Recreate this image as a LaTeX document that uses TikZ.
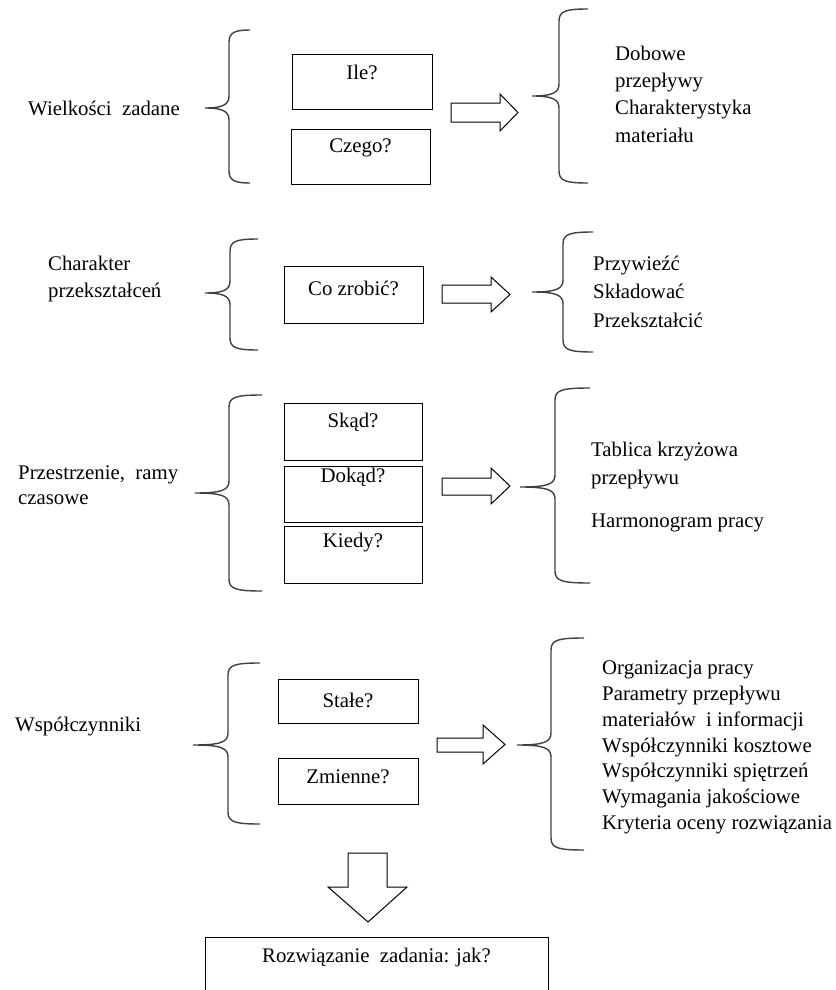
\documentclass[tikz,border=0pt]{standalone}
\usepackage{fontspec}
\setmainfont{Liberation Serif}
\newcommand{\mybrace}[6]{%
  \draw[brc] (#3,#4) .. controls (#2+7,#4) and (#2,#4+2) .. (#2,#4+12)
    -- (#2,#5-12) .. controls (#2,#5-3) and (#2-7,#5) .. (#1,#5)
    .. controls (#2-7,#5) and (#2,#5+3) .. (#2,#5+12)
    -- (#2,#6-12) .. controls (#2,#6-2) and (#2+7,#6) .. (#3,#6);}
\begin{document}
\begin{tikzpicture}[x=1pt,y=-1pt,
  qbox/.style={draw=black, line width=1.3pt, inner sep=0pt, anchor=north west},
  lbl/.style={inner sep=0pt, font=\fontsize{20.8}{26}\selectfont},
  brc/.style={draw=black!75, line width=1.4pt},
  barrow/.style={draw=black, line width=1pt, fill=white, line join=miter}]
\useasboundingbox (0,0) rectangle (835,990);

% ---------- section 1 ----------
\node[lbl, anchor=west] (l1) at (28,108) {Wielkości\ \ zadane};
\mybrace{205}{229}{250}{30}{108}{183}
\node[qbox, minimum width=140pt, minimum height=55pt] (bIle) at (292,54) {};
\node[lbl] (tIle) at (362,72) {Ile?};
\node[qbox, minimum width=139pt, minimum height=55pt] (bCzego) at (291,129) {};
\node[lbl] (tCzego) at (360.5,148) {Czego?};
\draw[barrow] (451,103) -- (500,103) -- (500,94) -- (518,112.5) -- (500,131) -- (500,122) -- (451,122) -- cycle;
\mybrace{532}{559}{588}{9}{96}{183}
\node[lbl, anchor=west, align=left, font=\fontsize{20.8}{27.3}\selectfont] (r1) at (615,94)
  {Dobowe\\przepływy\\Charakterystyka\\materiału};

% ---------- section 2 ----------
\node[lbl, anchor=west, align=left, font=\fontsize{20.8}{27}\selectfont] (l2) at (48,278.5)
  {Charakter\\przekształceń};
\mybrace{205}{230}{258}{239}{293}{350}
\node[qbox, minimum width=139pt, minimum height=57pt] (bCo) at (284,266) {};
\node[lbl] (tCo) at (353.5,288) {Co zrobić?};
\draw[barrow] (442,285) -- (491,285) -- (491,277) -- (510,294.5) -- (491,312) -- (491,303) -- (442,303) -- cycle;
\mybrace{532}{563}{593}{232}{292}{352}
\node[lbl, anchor=west, align=left, font=\fontsize{20.8}{28.5}\selectfont] (r2) at (593,291.5)
  {Przywieźć\\Składować\\Przekształcić};

% ---------- section 3 ----------
\node[lbl, anchor=west, align=left, font=\fontsize{20.8}{25}\selectfont] (l3) at (18,485.5)
  {Przestrzenie,\ \ ramy\\czasowe};
\mybrace{195}{229}{262}{395}{493}{591}
\node[qbox, minimum width=138pt, minimum height=57pt] (bSkad) at (284,403) {};
\node[lbl] (tSkad) at (353,422) {Skąd?};
\node[qbox, minimum width=138pt, minimum height=56pt] (bDokad) at (284,466) {};
\node[lbl] (tDokad) at (353,477) {Dokąd?};
\node[qbox, minimum width=138pt, minimum height=57pt] (bKiedy) at (284,526) {};
\node[lbl] (tKiedy) at (353,543) {Kiedy?};
\draw[barrow] (442,478) -- (491,478) -- (491,468) -- (510,486) -- (491,504) -- (491,495) -- (442,495) -- cycle;
\mybrace{520}{555}{590}{388}{487}{583}
\node[lbl, anchor=west, align=left, font=\fontsize{20.8}{28}\selectfont] (r3) at (591,487.5)
  {Tablica krzyżowa\\przepływu\\[15pt]Harmonogram pracy};

% ---------- section 4 ----------
\node[lbl, anchor=west] (l4) at (15,727) {Współczynniki};
\mybrace{193}{228}{260}{663}{745}{824}
\node[qbox, minimum width=140pt, minimum height=44pt] (bStale) at (278,679) {};
\node[lbl] (tStale) at (348,700) {Stałe?};
\node[qbox, minimum width=140pt, minimum height=46pt] (bZm) at (278,758) {};
\node[lbl] (tZm) at (348,777) {Zmienne?};
\draw[barrow] (437,738) -- (483,738) -- (483,725) -- (505,744.5) -- (483,764) -- (483,752) -- (437,752) -- cycle;
\mybrace{517}{551}{584}{638}{745}{850}
\node[lbl, anchor=west, align=left, font=\fontsize{20.8}{25.8}\selectfont] (r4) at (602,747.5)
  {Organizacja pracy\\Parametry przepływu\\materiałów\ \ i informacji\\Współczynniki kosztowe\\Współczynniki spiętrzeń\\Wymagania jakościowe\\Kryteria oceny rozwiązania};

% ---------- bottom ----------
\draw[barrow] (348,853) -- (387,853) -- (387,887) -- (407,887) -- (368,922) -- (328,887) -- (348,887) -- cycle;
\node[qbox, minimum width=343pt, minimum height=70pt] (bRoz) at (205,937) {};
\node[lbl] (tRoz) at (376.5,957) {Rozwiązanie\ \ zadania: jak?};
\end{tikzpicture}
\end{document}
